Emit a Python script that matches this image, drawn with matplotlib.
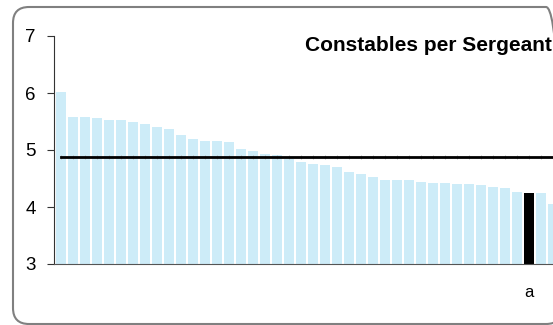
import matplotlib
matplotlib.use('Agg')
import matplotlib.pyplot as plt
from matplotlib.patches import FancyBboxPatch
from matplotlib.transforms import IdentityTransform

plt.rcParams['font.family'] = ['Liberation Sans', 'DejaVu Sans']

# constables per sergeant, sorted (visible forces only, chart is cropped at right)
values = [6.02, 5.58, 5.58, 5.56, 5.53, 5.53, 5.49, 5.46, 5.40, 5.37,
          5.26, 5.19, 5.16, 5.16, 5.14, 5.02, 4.98, 4.93, 4.91, 4.84,
          4.79, 4.75, 4.74, 4.70, 4.61, 4.58, 4.53, 4.47, 4.47, 4.47,
          4.44, 4.42, 4.42, 4.40, 4.40, 4.39, 4.35, 4.33, 4.26, 4.25,
          4.25, 4.05]
highlight_index = 39
highlight_label = 'a'
average = 4.87
title = 'Constables per Sergeant'

W, H = 553, 325
fig = plt.figure(figsize=(W / 100, H / 100), dpi=100)

# rounded frame around the chart
frame = FancyBboxPatch((13, 1), 549, 317, boxstyle='round,pad=0,rounding_size=16',
                       transform=IdentityTransform(), facecolor='none',
                       edgecolor='#808080', linewidth=1.5)
fig.add_artist(frame)

x_min, x_max = -0.58, 45.0
ax_left = 54 / W
ax_width = (x_max - x_min) * 12 / W
ax = fig.add_axes([ax_left, (H - 264) / H, ax_width, 228 / H])
ax.patch.set_alpha(0)

x = list(range(len(values)))
colors = ['#000000' if i == highlight_index else '#cdecf8' for i in x]
ax.bar(x, values, width=0.87, color=colors, bottom=0, zorder=2)

# average line with faint tick marks at each bar
ax.plot(x, [average] * len(x), linestyle='none', marker='|', markersize=3.5,
        markeredgecolor='#b4b4b4', markeredgewidth=0.6, zorder=2.5)
ax.plot(x, [average] * len(x), color='black', linewidth=2, zorder=3)

ax.set_xlim(x_min, x_max)
ax.set_ylim(3, 7)
ax.set_yticks([3, 4, 5, 6, 7])
ax.set_xticks([highlight_index])
ax.set_xticklabels([highlight_label])

for side in ('top', 'right'):
    ax.spines[side].set_visible(False)
ax.spines['left'].set_color('#333333')
ax.spines['bottom'].set_color('#555555')
ax.tick_params(axis='y', length=5, width=0.8, color='#333333', pad=8, labelsize=13.5)
ax.tick_params(axis='x', length=0, pad=15, labelsize=12)

fig.text(305 / W, 1 - 51 / H, title, fontsize=15, fontweight='bold',
         ha='left', va='baseline')

fig.savefig('out.png', dpi=100)
